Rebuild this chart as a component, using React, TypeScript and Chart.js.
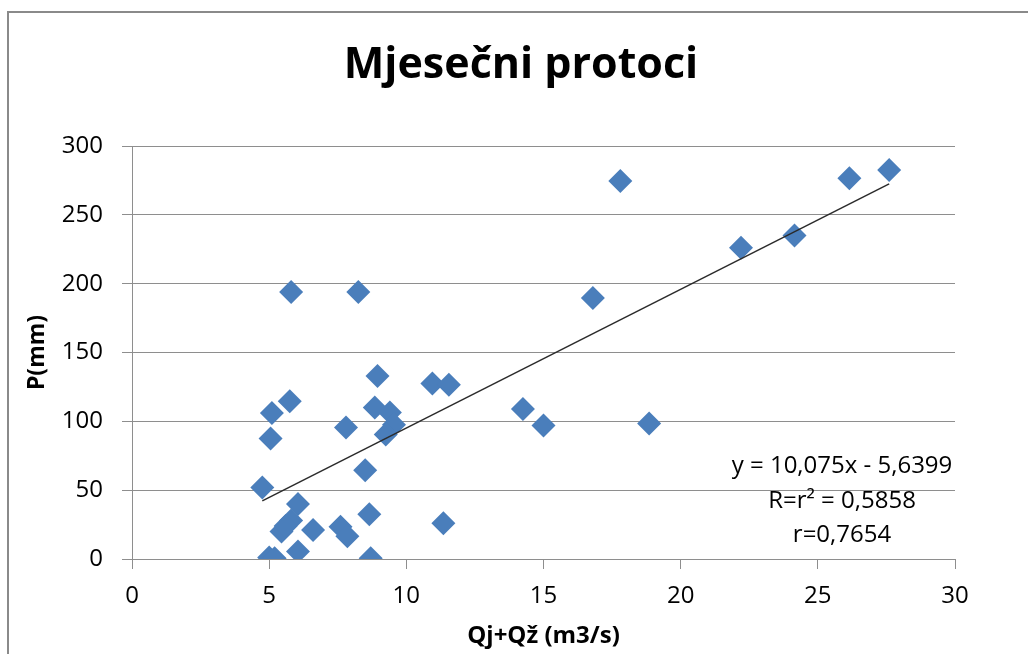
import React, { useEffect, useRef } from "react";
import { Chart, registerables } from "chart.js";

Chart.register(...registerables);

const chartTitle = "Mjesečni protoci";
const xAxisTitle = "Qj+Qž (m3/s)";
const yAxisTitle = "P(mm)";

// Qj+Qž (m3/s)
const flowValues: number[] = [
  27.6, 26.15, 17.8, 22.2, 24.15, 16.8, 5.8, 8.25, 8.95, 10.95, 11.55, 14.25, 15.0,
  18.85, 5.1, 5.75, 5.05, 7.8, 8.85, 9.4, 9.55, 9.25, 4.75, 8.5, 6.05, 5.8, 5.45, 5.6,
  6.6, 7.6, 7.85, 8.65, 11.35, 6.05, 5.0, 5.2, 8.7,
];
// P (mm)
const precipValues: number[] = [
  282.5, 276.5, 274.5, 226, 235, 189.5, 194, 194, 133, 127.5, 126.5, 109, 97, 98.5, 106,
  114.5, 87.5, 95.5, 110, 106.5, 97.5, 90.5, 52, 64.5, 40, 28, 20, 24, 21, 23.5, 16.5,
  32.5, 26, 5.5, 1, 0.5, 0.5,
];

const trendSlope = 10.075;
const trendIntercept = -5.6399;
const annotationLines = ["y = 10,075x - 5,6399", "R=r² = 0,5858", "r=0,7654"];

const xTicks = { min: 0, max: 30, step: 5 };
const yTicks = { min: 0, max: 300, step: 50 };

const FONT = "'Open Sans', 'Noto Sans', sans-serif";

export default function App() {
  const canvasRef = useRef<HTMLCanvasElement | null>(null);

  useEffect(() => {
    const canvas = canvasRef.current;
    if (!canvas) return;
    const points = flowValues.map((x, i) => ({ x, y: precipValues[i] }));
    const xMin = Math.min(...flowValues);
    const xMax = Math.max(...flowValues);
    const trend = [xMin, xMax].map((x) => ({ x, y: trendSlope * x + trendIntercept }));

    const annotationPlugin = {
      id: "annotationText",
      afterDatasetsDraw(chart: any) {
        const { ctx } = chart;
        ctx.save();
        ctx.font = `24px ${FONT}`;
        ctx.fillStyle = "#000";
        ctx.textAlign = "center";
        ctx.textBaseline = "middle";
        const ys = [466, 501, 535];
        annotationLines.forEach((t, i) => ctx.fillText(t, 842, ys[i]));
        ctx.restore();
      },
    };

    const chart = new Chart(canvas, {
      type: "scatter",
      data: {
        datasets: [
          {
            label: "P",
            data: points,
            pointStyle: "rectRot",
            pointRadius: 12,
            pointHoverRadius: 12,
            backgroundColor: "#4A7EBB",
            borderColor: "#4A7EBB",
            borderWidth: 0,
            order: 1,
          },
          {
            label: "trend",
            type: "line",
            data: trend,
            borderColor: "#2b2b2b",
            borderWidth: 1.5,
            pointRadius: 0,
            fill: false,
            order: 0,
          } as any,
        ],
      },
      options: {
        responsive: false,
        animation: false,
        devicePixelRatio: 1,
        layout: { padding: { left: 14, right: 0, top: 0, bottom: 0 } },
        plugins: {
          legend: { display: false },
          tooltip: { enabled: false },
          title: {
            display: true,
            text: chartTitle,
            color: "#000",
            font: { family: FONT, size: 43, weight: "bold", lineHeight: 1.2 },
            padding: { top: 40, bottom: 54.4 },
          },
        },
        scales: {
          x: {
            type: "linear",
            min: xTicks.min,
            max: xTicks.max,
            ticks: {
              stepSize: xTicks.step,
              color: "#000",
              font: { family: FONT, size: 24, lineHeight: 1.2 },
              padding: 13,
            },
            grid: {
              drawOnChartArea: false,
              drawTicks: true,
              tickLength: 10,
              color: "#8E8E8E",
            },
            border: { display: true, color: "#8E8E8E", width: 1 },
            title: {
              display: true,
              text: xAxisTitle,
              color: "#000",
              font: { family: FONT, size: 24, weight: "bold", lineHeight: 1.2 },
              padding: { top: 0, bottom: 3 },
            },
            afterFit(scale: any) {
              scale.height = 95;
            },
          },
          y: {
            type: "linear",
            position: "left",
            min: yTicks.min,
            max: yTicks.max,
            ticks: {
              stepSize: yTicks.step,
              color: "#000",
              font: { family: FONT, size: 24, lineHeight: 1.2 },
              padding: 19,
            },
            grid: {
              drawTicks: true,
              tickLength: 10,
              color: "#8E8E8E",
            },
            border: { display: true, color: "#8E8E8E", width: 1 },
            title: {
              display: true,
              text: yAxisTitle,
              color: "#000",
              font: { family: FONT, size: 23, weight: "bold", lineHeight: 1.2 },
              padding: { top: 10, bottom: 0 },
            },
            afterFit(scale: any) {
              scale.width = 118;
            },
          },
          yRight: {
            type: "linear",
            position: "right",
            display: true,
            min: yTicks.min,
            max: yTicks.max,
            ticks: { display: false },
            grid: { display: false, drawTicks: false },
            border: { display: false },
            afterFit(scale: any) {
              scale.width = 73;
            },
          },
        },
      },
      plugins: [annotationPlugin],
    });

    return () => chart.destroy();
  }, []);

  return (
    <div
      style={{
        position: "fixed",
        left: 0,
        top: 0,
        width: 1028,
        height: 654,
        overflow: "hidden",
        background: "#fff",
      }}
    >
      <div
        style={{
          position: "absolute",
          left: 7,
          top: 11,
          width: 1100,
          height: 700,
          border: "2px solid #8A8A8A",
          boxSizing: "border-box",
        }}
      />
      <canvas
        ref={canvasRef}
        width={1028}
        height={654}
        style={{ position: "absolute", left: 0, top: 0, width: 1028, height: 654 }}
      />
    </div>
  );
}
